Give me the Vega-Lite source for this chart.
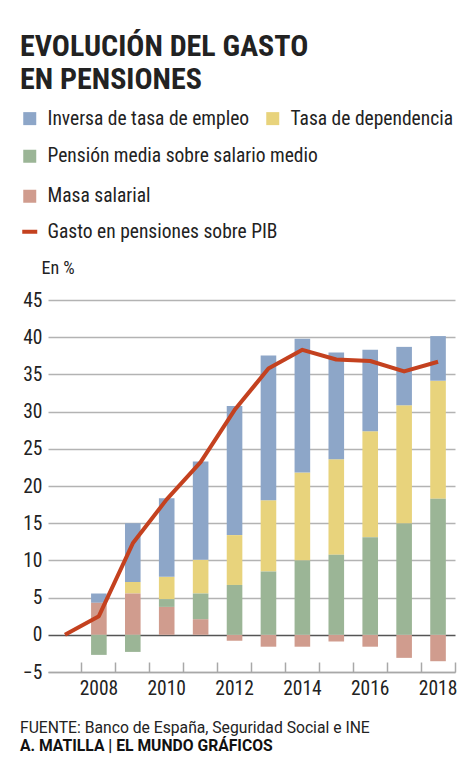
{
  "$schema": "https://vega.github.io/schema/vega-lite/v6.json",
  "width": 407,
  "height": 372,
  "autosize": {"type": "none"},
  "padding": {"left": 48, "top": 300, "right": 19, "bottom": 111},
  "background": "white",
  "title": {
    "text": "FUENTE: Banco de España, Seguridad Social e INE",
    "subtitle": "A. MATILLA | EL MUNDO GRÁFICOS",
    "orient": "bottom",
    "anchor": "start",
    "frame": "bounds",
    "offset": 23,
    "font": "Roboto",
    "fontSize": 15.7,
    "fontWeight": "normal",
    "color": "#222222",
    "subtitleFont": "Roboto",
    "subtitleFontSize": 15.7,
    "subtitleFontWeight": "bold",
    "subtitleColor": "#111111",
    "subtitlePadding": 3
  },
  "config": {
    "view": {"stroke": null},
    "font": "'Roboto Condensed', 'Liberation Sans Narrow', 'DejaVu Sans Condensed', Roboto"
  },
  "datasets": {
    "componentes": [
      {"anio": 2008, "serie": "Masa salarial", "valor": 4.3},
      {"anio": 2008, "serie": "Pensión media sobre salario medio", "valor": -2.7},
      {"anio": 2008, "serie": "Tasa de dependencia", "valor": 0},
      {"anio": 2008, "serie": "Inversa de tasa de empleo", "valor": 1.25},
      {"anio": 2009, "serie": "Masa salarial", "valor": 5.55},
      {"anio": 2009, "serie": "Pensión media sobre salario medio", "valor": -2.3},
      {"anio": 2009, "serie": "Tasa de dependencia", "valor": 1.55},
      {"anio": 2009, "serie": "Inversa de tasa de empleo", "valor": 7.9},
      {"anio": 2010, "serie": "Masa salarial", "valor": 3.75},
      {"anio": 2010, "serie": "Pensión media sobre salario medio", "valor": 1.05},
      {"anio": 2010, "serie": "Tasa de dependencia", "valor": 3.0},
      {"anio": 2010, "serie": "Inversa de tasa de empleo", "valor": 10.55},
      {"anio": 2011, "serie": "Masa salarial", "valor": 2.1},
      {"anio": 2011, "serie": "Pensión media sobre salario medio", "valor": 3.45},
      {"anio": 2011, "serie": "Tasa de dependencia", "valor": 4.55},
      {"anio": 2011, "serie": "Inversa de tasa de empleo", "valor": 13.2},
      {"anio": 2012, "serie": "Masa salarial", "valor": -0.8},
      {"anio": 2012, "serie": "Pensión media sobre salario medio", "valor": 6.7},
      {"anio": 2012, "serie": "Tasa de dependencia", "valor": 6.7},
      {"anio": 2012, "serie": "Inversa de tasa de empleo", "valor": 17.35},
      {"anio": 2013, "serie": "Masa salarial", "valor": -1.6},
      {"anio": 2013, "serie": "Pensión media sobre salario medio", "valor": 8.5},
      {"anio": 2013, "serie": "Tasa de dependencia", "valor": 9.6},
      {"anio": 2013, "serie": "Inversa de tasa de empleo", "valor": 19.45},
      {"anio": 2014, "serie": "Masa salarial", "valor": -1.6},
      {"anio": 2014, "serie": "Pensión media sobre salario medio", "valor": 10.0},
      {"anio": 2014, "serie": "Tasa de dependencia", "valor": 11.8},
      {"anio": 2014, "serie": "Inversa de tasa de empleo", "valor": 18.0},
      {"anio": 2015, "serie": "Masa salarial", "valor": -0.9},
      {"anio": 2015, "serie": "Pensión media sobre salario medio", "valor": 10.75},
      {"anio": 2015, "serie": "Tasa de dependencia", "valor": 12.85},
      {"anio": 2015, "serie": "Inversa de tasa de empleo", "valor": 14.35},
      {"anio": 2016, "serie": "Masa salarial", "valor": -1.6},
      {"anio": 2016, "serie": "Pensión media sobre salario medio", "valor": 13.1},
      {"anio": 2016, "serie": "Tasa de dependencia", "valor": 14.25},
      {"anio": 2016, "serie": "Inversa de tasa de empleo", "valor": 10.95},
      {"anio": 2017, "serie": "Masa salarial", "valor": -3.1},
      {"anio": 2017, "serie": "Pensión media sobre salario medio", "valor": 14.95},
      {"anio": 2017, "serie": "Tasa de dependencia", "valor": 15.9},
      {"anio": 2017, "serie": "Inversa de tasa de empleo", "valor": 7.85},
      {"anio": 2018, "serie": "Masa salarial", "valor": -3.55},
      {"anio": 2018, "serie": "Pensión media sobre salario medio", "valor": 18.3},
      {"anio": 2018, "serie": "Tasa de dependencia", "valor": 15.85},
      {"anio": 2018, "serie": "Inversa de tasa de empleo", "valor": 6.0}
    ],
    "gasto": [
      {"anio": 2007, "serie": "Gasto en pensiones sobre PIB", "valor": 0},
      {"anio": 2008, "serie": "Gasto en pensiones sobre PIB", "valor": 2.5},
      {"anio": 2009, "serie": "Gasto en pensiones sobre PIB", "valor": 12.3},
      {"anio": 2010, "serie": "Gasto en pensiones sobre PIB", "valor": 18.2},
      {"anio": 2011, "serie": "Gasto en pensiones sobre PIB", "valor": 23.2},
      {"anio": 2012, "serie": "Gasto en pensiones sobre PIB", "valor": 30.2},
      {"anio": 2013, "serie": "Gasto en pensiones sobre PIB", "valor": 35.8},
      {"anio": 2014, "serie": "Gasto en pensiones sobre PIB", "valor": 38.3},
      {"anio": 2015, "serie": "Gasto en pensiones sobre PIB", "valor": 37.0},
      {"anio": 2016, "serie": "Gasto en pensiones sobre PIB", "valor": 36.8},
      {"anio": 2017, "serie": "Gasto en pensiones sobre PIB", "valor": 35.4},
      {"anio": 2018, "serie": "Gasto en pensiones sobre PIB", "valor": 36.7}
    ]
  },
  "encoding": {
    "x": {
      "field": "anio",
      "type": "ordinal",
      "scale": {
        "domain": [2007, 2008, 2009, 2010, 2011, 2012, 2013, 2014, 2015, 2016, 2017, 2018],
        "paddingInner": 0,
        "paddingOuter": 0
      },
      "axis": {
        "title": null,
        "labelAngle": 0,
        "labelExpr": "datum.value % 2 == 0 ? datum.label : ''",
        "labelFontSize": 19.5,
        "labelColor": "#222222",
        "labelPadding": 17,
        "bandPosition": 1,
        "tickExtra": false,
        "tickSize": -10,
        "tickColor": "#a8a8a8",
        "tickWidth": 1.5,
        "domainColor": "#a8a8a8",
        "domainWidth": 1.5,
        "grid": false
      }
    },
    "y": {
      "type": "quantitative",
      "scale": {"domain": [-5, 45], "nice": false, "zero": false},
      "axis": {
        "title": "En %",
        "titleAngle": 0,
        "titleAlign": "left",
        "titleBaseline": "alphabetic",
        "titleX": -7,
        "titleY": -27,
        "titleFontSize": 18,
        "titleFontWeight": "normal",
        "titleColor": "#222222",
        "values": [-5, 0, 5, 10, 15, 20, 25, 30, 35, 40, 45],
        "labelFontSize": 19.5,
        "labelColor": "#222222",
        "labelPadding": 6,
        "ticks": false,
        "domain": false,
        "grid": true,
        "gridWidth": 1.5,
        "gridColor": {"condition": {"test": "datum.value === 0", "value": "#555555"}, "value": "#b3b3b3"}
      }
    }
  },
  "layer": [
    {
      "data": {"name": "componentes"},
      "transform": [
        {"calculate": "indexof(['Masa salarial', 'Pensión media sobre salario medio', 'Tasa de dependencia', 'Inversa de tasa de empleo'], datum.serie)", "as": "orden"},
        {"stack": "valor", "groupby": ["anio"], "sort": [{"field": "orden", "order": "ascending"}], "as": ["v0", "v1"]}
      ],
      "layer": [
        {
          "transform": [{"filter": {"field": "serie", "oneOf": ["Inversa de tasa de empleo", "Tasa de dependencia"]}}],
          "mark": {"type": "bar", "width": {"band": 0.46}},
          "encoding": {
            "y": {"field": "v0", "type": "quantitative"},
            "y2": {"field": "v1"},
            "color": {
              "field": "serie",
              "type": "nominal",
              "scale": {"domain": ["Inversa de tasa de empleo", "Tasa de dependencia"], "range": ["#8da6c8", "#e8d37c"]},
              "legend": {
                "orient": "none",
                "legendX": -28,
                "legendY": -268,
                "direction": "horizontal",
                "title": ["EVOLUCIÓN DEL GASTO", "EN PENSIONES"],
                "titleFontSize": 30,
                "titleFontWeight": "bold",
                "titleColor": "#222222",
                "titleLineHeight": 33,
                "titlePadding": 13.5,
                "titleLimit": 0,
                "symbolType": "square",
                "symbolSize": 169,
                "symbolStrokeWidth": 0,
                "labelFontSize": 19.5,
                "labelColor": "#222222",
                "labelOffset": 8,
                "labelLimit": 0,
                "columnPadding": 13,
                "padding": 0
              }
            }
          }
        },
        {
          "transform": [{"filter": {"field": "serie", "oneOf": ["Pensión media sobre salario medio", "Masa salarial"]}}],
          "mark": {"type": "bar", "width": {"band": 0.46}},
          "encoding": {
            "y": {"field": "v0", "type": "quantitative"},
            "y2": {"field": "v1"},
            "fill": {
              "field": "serie",
              "type": "nominal",
              "scale": {"domain": ["Pensión media sobre salario medio", "Masa salarial"], "range": ["#9bb596", "#d09c8e"]},
              "legend": {
                "orient": "none",
                "legendX": -28,
                "legendY": -153.5,
                "direction": "vertical",
                "title": null,
                "symbolType": "square",
                "symbolSize": 169,
                "symbolStrokeWidth": 0,
                "labelFontSize": 19.5,
                "labelColor": "#222222",
                "labelOffset": 8,
                "labelLimit": 0,
                "rowPadding": 19,
                "padding": 0
              }
            }
          }
        }
      ]
    },
    {
      "data": {"name": "gasto"},
      "mark": {"type": "line", "strokeWidth": 4, "strokeJoin": "round"},
      "encoding": {
        "y": {"field": "valor", "type": "quantitative"},
        "stroke": {
          "field": "serie",
          "type": "nominal",
          "scale": {"domain": ["Gasto en pensiones sobre PIB"], "range": ["#c4411f"]},
          "legend": {
            "orient": "none",
            "legendX": -28,
            "legendY": -78,
            "title": null,
            "symbolType": "stroke",
            "symbolSize": 225,
            "symbolStrokeWidth": 4,
            "labelFontSize": 19.5,
            "labelColor": "#222222",
            "labelOffset": 8,
            "labelLimit": 0,
            "padding": 0
          }
        }
      }
    }
  ]
}
